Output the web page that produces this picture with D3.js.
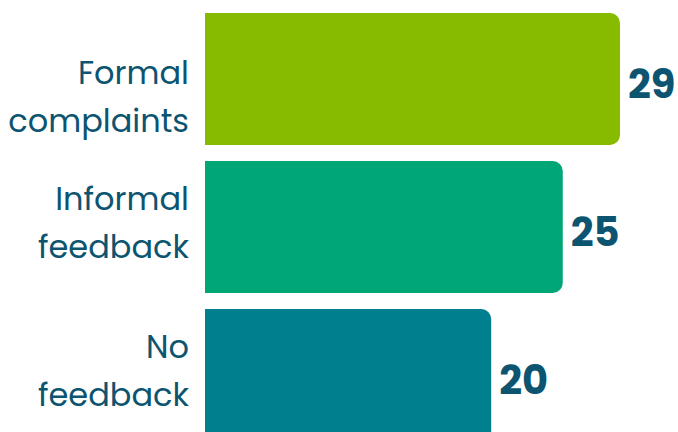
<!DOCTYPE html>
<html>
<head>
<meta charset="utf-8">
<script src="https://cdn.jsdelivr.net/npm/d3@7"></script>
<style>
  html, body { margin: 0; padding: 0; background: #fff; }
  svg { display: block; font-family: "Poppins", "Open Sans", sans-serif; }
</style>
</head>
<body>
<div class="bar-chart"></div>
<script>
// data
const categories = ["Formal complaints", "Informal feedback", "No feedback"];
const labelLines = [["Formal", "complaints"], ["Informal", "feedback"], ["No", "feedback"]];
const values = [29, 25, 20];
const colors = ["#86bb00", "#00a676", "#007f8f"];

const width = 678, height = 432;
const textColor = "#0c5470";

const svg = d3.select('.bar-chart').append('svg')
  .attr('width', width).attr('height', height);

const xScale = d3.scaleLinear()
  .domain([0, d3.max(values)])
  .range([205, 620]);

const yScale = d3.scaleBand()
  .domain(categories)
  .range([13, 441])
  .paddingInner(16 / 148)
  .paddingOuter(0);

const r = 10;
// bar with square left side, rounded right corners
function barPath(x0, x1, y0, h) {
  return `M${x0},${y0} H${x1 - r} A${r},${r} 0 0 1 ${x1},${y0 + r}` +
    ` V${y0 + h - r} A${r},${r} 0 0 1 ${x1 - r},${y0 + h} H${x0} Z`;
}

const rows = categories.map((c, i) => ({cat: c, lines: labelLines[i], value: values[i], color: colors[i]}));

svg.selectAll('path.bar').data(rows)
  .join('path')
  .attr('class', 'bar')
  .attr('d', d => barPath(xScale(0), xScale(d.value), yScale(d.cat), yScale.bandwidth()))
  .attr('fill', d => d.color);

// category labels, two lines, right aligned
const labels = svg.selectAll('text.cat').data(rows)
  .join('text')
  .attr('class', 'cat')
  .attr('text-anchor', 'end')
  .attr('fill', textColor)
  .attr('font-size', 32);

labels.each(function(d) {
  const cy = yScale(d.cat) + yScale.bandwidth() / 2;
  const first = Math.max(cy - 17, 84); // keep the top label off the edge
  d3.select(this).selectAll('tspan').data(d.lines)
    .join('tspan')
    .attr('x', 189)
    .attr('y', (l, j) => first + j * 48)
    .text(l => l);
});

// value labels
svg.selectAll('text.val').data(rows)
  .join('text')
  .attr('class', 'val')
  .attr('x', d => xScale(d.value) + 8)
  .attr('y', d => yScale(d.cat) + yScale.bandwidth() / 2 + 5)
  .attr('dominant-baseline', 'central')
  .attr('fill', textColor)
  .attr('font-size', 40)
  .attr('font-weight', 700)
  .text(d => d.value);
</script>
</body>
</html>
